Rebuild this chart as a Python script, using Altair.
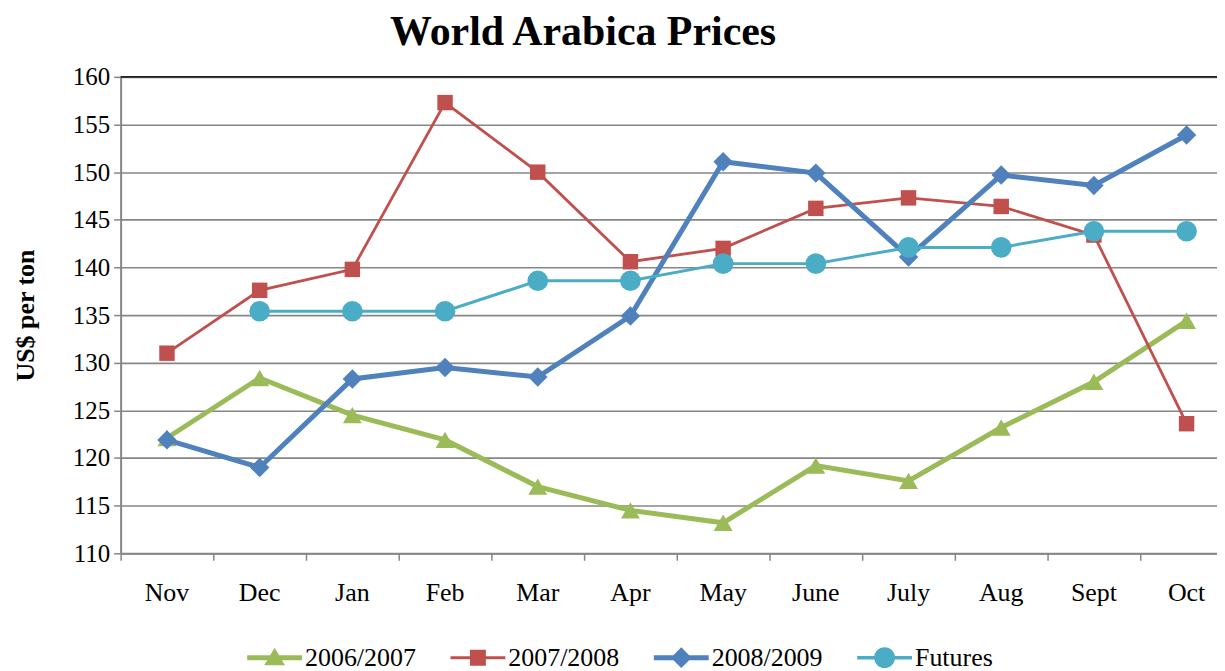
import altair as alt
import pandas as pd

months = ["Nov", "Dec", "Jan", "Feb", "Mar", "Apr", "May", "June", "July", "Aug", "Sept", "Oct"]
s0607 = [122.1, 128.4, 124.5, 121.9, 117.0, 114.5, 113.2, 119.2, 117.6, 123.2, 128.0, 134.4]
s0708 = [131.0, 137.6, 139.8, 157.3, 150.0, 140.6, 142.0, 146.2, 147.3, 146.4, 143.4, 123.6]
s0809 = [121.9, 119.0, 128.3, 129.5, 128.5, 134.9, 151.1, 149.9, 141.1, 149.7, 148.6, 153.9]
futures = [None, 135.4, 135.4, 135.4, 138.6, 138.6, 140.4, 140.4, 142.1, 142.1, 143.8, 143.8]

series_names = ["2006/2007", "2007/2008", "2008/2009", "Futures"]
series_vals = [s0607, s0708, s0809, futures]
colors = ["#9BBB59", "#C0504D", "#4F81BD", "#4BACC6"]
line_widths = [5, 2.8, 5, 3]
shapes = ["triangle-up", "square", "diamond", "circle"]
sizes = [360, 240, 380, 430]
top_value = [160]

rows = []
for name, vals in zip(series_names, series_vals):
    for m, v in zip(months, vals):
        if v is not None:
            rows.append({"month": m, "series": name, "value": v})
df = pd.DataFrame(rows)

FONT = "Liberation Serif"
GRID = "#868686"


def rect(t):
    return f"M-1,-{t} H1 V{t} H-1 Z "


paths = [
    rect(0.09) + "M-0.38,0.28 L0,-0.36 L0.38,0.28 Z",
    rect(0.055) + "M-0.29,-0.29 H0.29 V0.29 H-0.29 Z",
    rect(0.09) + "M0,-0.38 L0.38,0 L0,0.38 L-0.38,0 Z",
    rect(0.065) + "M-0.38,0 A0.38,0.38 0 1,1 0.38,0 A0.38,0.38 0 1,1 -0.38,0 Z",
]
shape_expr = " : ".join(
    f"datum.value === '{n}' ? '{p}'" for n, p in zip(series_names[:-1], paths[:-1])
) + f" : '{paths[-1]}'"

legend = alt.Legend(
    title=None,
    orient="none",
    legendX=127,
    legendY=555,
    direction="horizontal",
    columns=4,
    columnPadding=34,
    symbolSize=3025,
    symbolType=alt.ExprRef(expr=shape_expr),
    symbolStrokeWidth=0,
    symbolOpacity=1,
    labelFont=FONT,
    labelFontSize=26,
    labelColor="black",
    labelOffset=3,
    labelLimit=300,
)

color = alt.Color(
    "series:N",
    scale=alt.Scale(domain=series_names, range=colors),
    legend=legend,
)

x = alt.X(
    "month:N",
    sort=months,
    scale=alt.Scale(type="band", paddingInner=0, paddingOuter=0, range=[0, 1116]),
    axis=alt.Axis(
        title=None,
        labelAngle=0,
        labelFont=FONT,
        labelFontSize=26,
        labelColor="black",
        labelPadding=19,
        domainColor=GRID,
        domainWidth=2,
        tickColor=GRID,
        tickWidth=1.5,
        tickSize=7,
        bandPosition=0,
        grid=False,
    ),
)
y = alt.Y(
    "value:Q",
    scale=alt.Scale(domain=[110, 160], nice=False, zero=False),
    axis=alt.Axis(
        title="US$ per ton",
        titleFont=FONT,
        titleFontSize=26,
        titleFontWeight="bold",
        titleColor="black",
        titlePadding=34,
        values=list(range(110, 161, 5)),
        labelFont=FONT,
        labelFontSize=25,
        labelColor="black",
        labelPadding=4,
        domainColor=GRID,
        domainWidth=2,
        tickColor=GRID,
        tickWidth=1.5,
        tickSize=7,
        grid=True,
        gridColor=GRID,
        gridWidth=1.6,
    ),
)

top_line = (
    alt.Chart(pd.DataFrame({"value": top_value}))
    .mark_rule(color="#222222", strokeWidth=1.6)
    .encode(y=alt.Y("value:Q"))
)

layers = [top_line]
for name, c, w, shp, sz in zip(series_names, colors, line_widths, shapes, sizes):
    base = alt.Chart(df).transform_filter(alt.datum.series == name)
    layers.append(base.mark_line(strokeWidth=w, color=c).encode(x=x, y=y))
    layers.append(
        base.mark_point(filled=True, opacity=1, shape=shp, size=sz, strokeWidth=0).encode(
            x=x, y=y, color=color
        )
    )

chart = (
    alt.layer(*layers)
    .properties(
        width=1100,
        height=478,
        title=alt.TitleParams(
            "World Arabica Prices",
            font=FONT,
            fontSize=42,
            fontWeight="bold",
            color="black",
            anchor="middle",
            dx=-86,
            offset=11,
        ),
        autosize=alt.AutoSizeParams(type="none"),
        padding={"left": 113, "top": 68, "right": 0, "bottom": 117},
    )
    .configure_view(stroke=None)
    .configure(background="white")
)

chart.save("out.html", embed_options={"renderer": "svg", "actions": False})
